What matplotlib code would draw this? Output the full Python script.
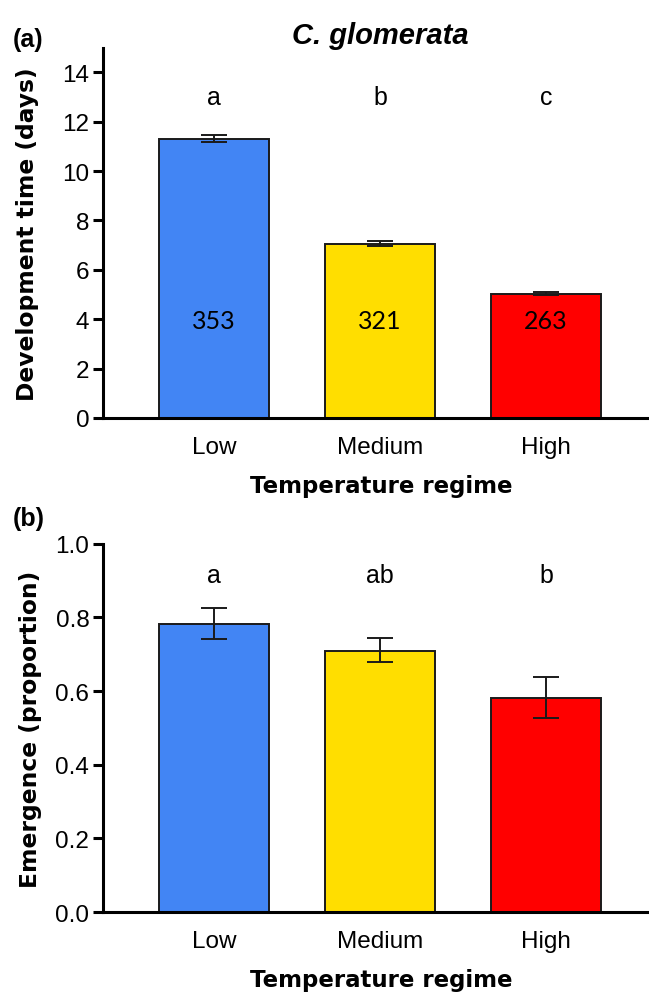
import matplotlib
matplotlib.use("Agg")
import matplotlib.pyplot as plt
import numpy as np

categories = ["Low", "Medium", "High"]
colors = ["#4285F4", "#FFDE00", "#FF0000"]

dev_time = [11.30, 7.05, 5.04]
dev_err_low = [0.13, 0.07, 0.04]
dev_err_high = [0.16, 0.10, 0.06]
dev_letters = ["a", "b", "c"]
dev_n = ["353", "321", "263"]

emerg = [0.782, 0.709, 0.580]
emerg_low = [0.742, 0.678, 0.528]
emerg_high = [0.827, 0.744, 0.638]
emerg_letters = ["a", "ab", "b"]

plt.rcParams['font.family'] = ['Liberation Sans', 'DejaVu Sans']
BOLD = ['DejaVu Sans']

fig = plt.figure(figsize=(6.49, 9.95), dpi=100)
ax1 = fig.add_axes([0.159, 0.579, 0.841, 0.372])
ax2 = fig.add_axes([0.159, 0.0824, 0.841, 0.370])

x = np.arange(len(categories))

def style(ax, ylim, yticks, fmt, ylabel, ylab_x):
    ax.set_xlim(-0.666, 2.62)
    ax.set_ylim(*ylim)
    ax.set_yticks(yticks)
    ax.set_yticklabels([fmt.format(v) for v in yticks])
    ax.set_xticks(x)
    ax.set_xticklabels(categories)
    for s in ["top", "right"]:
        ax.spines[s].set_visible(False)
    for s in ["left", "bottom"]:
        ax.spines[s].set_linewidth(2.2)
    ax.tick_params(axis='y', length=7, width=2.2, labelsize=17.5, pad=3)
    ax.tick_params(axis='x', length=0, labelsize=17.5, pad=13)
    ax.set_xlabel("Temperature regime", fontsize=16.5, fontweight='bold',
                  family=BOLD, va='center')
    ax.xaxis.set_label_coords(0.509, -0.183)
    ax.set_ylabel(ylabel, fontsize=16.8, fontweight='bold', family=BOLD,
                  va='center', ha='center')
    ax.yaxis.set_label_coords(ylab_x, 0.5)

# Panel (a)
ax1.bar(x, dev_time, width=0.66, color=colors, edgecolor='#1a1a1a', linewidth=1.4, zorder=2)
ax1.errorbar(x, dev_time, yerr=[dev_err_low, dev_err_high], fmt='none', ecolor='#1a1a1a',
             elinewidth=1.4, capsize=9.4, capthick=1.4, zorder=3)
style(ax1, (0, 15), [0, 2, 4, 6, 8, 10, 12, 14], "{:d}", "Development time (days)", -0.139)
for xi, lt in zip(x, dev_letters):
    ax1.text(xi, 13.0, lt, ha='center', va='center', fontsize=18)
for xi, n in zip(x, dev_n):
    ax1.text(xi, 3.93, n, ha='center', va='center', fontsize=18, family=['Lato', 'DejaVu Sans'])
fig.text(0.5855, 0.964, "C. glomerata", ha='center', va='center', fontsize=21,
         fontweight='bold', fontstyle='italic')
fig.text(0.019, 0.960, "(a)", ha='left', va='center', fontsize=18, fontweight='bold')

# Panel (b)
ax2.bar(x, emerg, width=0.66, color=colors, edgecolor='#1a1a1a', linewidth=1.4, zorder=2)
e_lo = np.array(emerg) - np.array(emerg_low)
e_hi = np.array(emerg_high) - np.array(emerg)
ax2.errorbar(x, emerg, yerr=[e_lo, e_hi], fmt='none', ecolor='#1a1a1a',
             elinewidth=1.4, capsize=9.4, capthick=1.4, zorder=3)
style(ax2, (0, 1.0), [0.0, 0.2, 0.4, 0.6, 0.8, 1.0], "{:.1f}", "Emergence (proportion)", -0.134)
for xi, lt in zip(x, emerg_letters):
    ax2.text(xi, 0.915, lt, ha='center', va='center', fontsize=18)
fig.text(0.019, 0.478, "(b)", ha='left', va='center', fontsize=18, fontweight='bold')

fig.savefig("out.png", dpi=100)
